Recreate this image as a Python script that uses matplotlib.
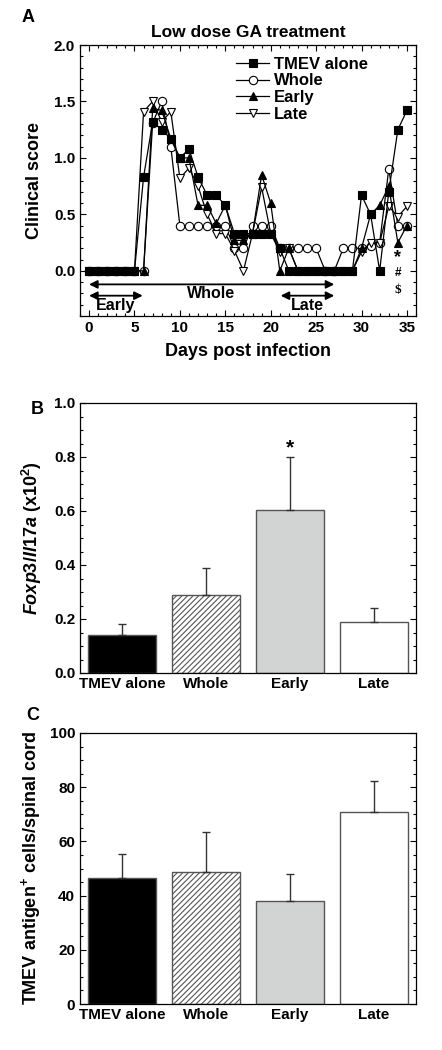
import numpy as np
import matplotlib.pyplot as plt
from matplotlib.ticker import MultipleLocator

plt.rcParams['font.family'] = ['Liberation Sans', 'DejaVu Sans']
plt.rcParams['font.weight'] = 'bold'
plt.rcParams['mathtext.fontset'] = 'custom'
plt.rcParams['mathtext.rm'] = 'Liberation Sans:bold'
plt.rcParams['mathtext.it'] = 'Liberation Sans:italic:bold'
plt.rcParams['mathtext.bf'] = 'Liberation Sans:bold'
plt.rcParams['hatch.linewidth'] = 0.8

# panel A: clinical scores by day
days = np.arange(36)
tmev = [0, 0, 0, 0, 0, 0, 0.83, 1.32, 1.25, 1.17, 1.0, 1.08, 0.83, 0.67, 0.67, 0.58,
        0.33, 0.33, 0.33, 0.33, 0.33, 0.2, 0, 0, 0, 0, 0, 0, 0, 0,
        0.67, 0.5, 0, 0.7, 1.25, 1.42]
whole = [0, 0, 0, 0, 0, 0, 0, 1.31, 1.5, 1.1, 0.4, 0.4, 0.4, 0.4, 0.4, 0.4,
         0.2, 0.2, 0.4, 0.4, 0.4, 0.2, 0.2, 0.2, 0.2, 0.2, 0, 0, 0.2, 0.2,
         0.2, 0.22, 0.25, 0.9, 0.4, 0.4]
early = [0, 0, 0, 0, 0, 0, 0, 1.44, 1.42, 1.17, 1.0, 1.0, 0.58, 0.58, 0.42, 0.58,
         0.27, 0.27, 0.33, 0.85, 0.6, 0, 0.2, 0, 0, 0, 0, 0, 0, 0,
         0.2, 0.5, 0.58, 0.75, 0.25, 0.4]
late = [0, 0, 0, 0, 0, 0, 1.41, 1.5, 1.32, 1.41, 0.82, 0.91, 0.75, 0.5, 0.33, 0.33,
        0.18, 0, 0.33, 0.74, 0.33, 0.17, 0.2, 0, 0, 0, 0, 0, 0, 0,
        0.17, 0.25, 0.25, 0.57, 0.48, 0.57]

# panels B and C
groups = ['TMEV alone', 'Whole', 'Early', 'Late']
foxp3 = [0.14, 0.29, 0.605, 0.19]
foxp3_err = [0.04, 0.10, 0.195, 0.05]
antigen = [46.5, 48.8, 37.9, 70.8]
antigen_err = [8.8, 14.7, 10.1, 11.5]

bar_colors = ['black', 'white', '#d2d4d4', 'white']
bar_hatch = [None, '//////', None, None]

W, H = 442, 1050
fig = plt.figure(figsize=(W / 100, H / 100), dpi=100)


def px_axes(l, t, r, b):
    return fig.add_axes([l / W, 1 - b / H, (r - l) / W, (b - t) / H])


def style_ticks(ax):
    ax.tick_params(which='both', direction='in', top=True, right=True,
                   labelsize=11, width=0.8)
    ax.tick_params(which='major', length=4)
    ax.tick_params(which='minor', length=2.5)
    for sp in ax.spines.values():
        sp.set_linewidth(0.9)


# ---- A ----
axA = px_axes(80, 45, 416, 316)
mk = dict(color='black', lw=0.9, markersize=6, markeredgewidth=0.8)
axA.plot(days, whole, marker='o', mfc='white', mec='black', label='Whole', zorder=3, **mk)
axA.plot(days, late, marker='v', mfc='white', mec='black', label='Late', zorder=4, **mk)
axA.plot(days, early, marker='^', mfc='black', mec='black', label='Early', zorder=5, **mk)
axA.plot(days, tmev, marker='s', mfc='black', mec='black', label='TMEV alone', zorder=6, **mk)
axA.set_xlim(-1, 36)
axA.set_ylim(-0.4, 2.0)
axA.xaxis.set_major_locator(MultipleLocator(5))
axA.xaxis.set_minor_locator(MultipleLocator(1))
axA.yaxis.set_minor_locator(MultipleLocator(0.1))
axA.set_yticks([0, 0.5, 1.0, 1.5, 2.0])
axA.set_yticklabels(['0.0', '0.5', '1.0', '1.5', '2.0'])
style_ticks(axA)
axA.set_xlabel('Days post infection', fontsize=13, fontweight='bold', labelpad=6)
axA.set_ylabel('Clinical score', fontsize=13, fontweight='bold', labelpad=8)
axA.set_title('Low dose GA treatment', fontsize=12.5, fontweight='bold', pad=6)

h, l = axA.get_legend_handles_labels()
order = [3, 0, 2, 1]
axA.legend([h[i] for i in order], [l[i] for i in order], loc='upper left',
           bbox_to_anchor=(0.43, 1.0), frameon=False, fontsize=12,
           handlelength=2.0, handletextpad=0.25, labelspacing=0.1, borderaxespad=0.3)

arrow = dict(arrowstyle='<|-|>', color='black', lw=1.3, mutation_scale=12,
             shrinkA=0, shrinkB=0)
axA.annotate('', xy=(0, -0.12), xytext=(27, -0.12), arrowprops=arrow)
axA.annotate('', xy=(0, -0.22), xytext=(5.9, -0.22), arrowprops=arrow)
axA.annotate('', xy=(21.1, -0.22), xytext=(27, -0.22), arrowprops=arrow)
axA.text(13.4, -0.2, 'Whole', ha='center', va='center', fontsize=11.5, fontweight='bold')
axA.text(2.9, -0.31, 'Early', ha='center', va='center', fontsize=11.5, fontweight='bold')
axA.text(24.0, -0.31, 'Late', ha='center', va='center', fontsize=11.5, fontweight='bold')
axA.text(34, 0.115, '*', ha='center', va='center', fontsize=13, fontweight='bold')
axA.text(34, -0.02, '#', ha='center', va='center', fontsize=8.5, fontweight='bold')
axA.text(34, -0.17, r'\$', ha='center', va='center', fontsize=9.5, fontweight='bold',
         family='Liberation Serif')
fig.text(28 / W, 1 - 17 / H, 'A', fontsize=13, fontweight='bold', ha='center', va='center')


def bar_panel(ax, vals, errs):
    x = np.arange(len(groups))
    for i in range(len(groups)):
        ax.bar(x[i], vals[i], width=0.8, color=bar_colors[i], edgecolor='#555555',
               hatch=bar_hatch[i], linewidth=1.0, zorder=2)
        ax.errorbar(x[i], vals[i], yerr=[[0], [errs[i]]], fmt='none', ecolor='#333333',
                    elinewidth=1.0, capsize=3, capthick=1.0, zorder=3)
    ax.set_xlim(-0.5, 3.5)
    ax.set_xticks(x)
    ax.set_xticklabels(groups, fontsize=12, fontweight='bold')
    style_ticks(ax)
    ax.tick_params(axis='x', which='both', length=0, top=False, bottom=False, pad=3)
    return x


# ---- B ----
axB = px_axes(80, 403, 416, 673)
xb = bar_panel(axB, foxp3, foxp3_err)
axB.set_ylim(0, 1.0)
axB.set_yticks(np.arange(0, 1.01, 0.2))
axB.set_yticklabels(['0.0', '0.2', '0.4', '0.6', '0.8', '1.0'])
axB.yaxis.set_minor_locator(MultipleLocator(0.05))
axB.set_ylabel(r'$Foxp3/Il17a$ (x10$^{2}$)', fontsize=13, fontweight='bold', labelpad=7)
axB.text(xb[2], foxp3[2] + foxp3_err[2] + 0.035, '*', ha='center', va='center',
         fontsize=15, fontweight='bold')
fig.text(37 / W, 1 - 410 / H, 'B', fontsize=13, fontweight='bold', ha='center', va='center')

# ---- C ----
axC = px_axes(80, 733, 416, 1004)
bar_panel(axC, antigen, antigen_err)
axC.set_ylim(0, 100)
axC.set_yticks(np.arange(0, 101, 20))
axC.yaxis.set_minor_locator(MultipleLocator(5))
axC.set_ylabel(r'TMEV antigen$^{+}$ cells/spinal cord', fontsize=13, fontweight='bold',
               labelpad=5)
fig.text(33 / W, 1 - 715 / H, 'C', fontsize=13, fontweight='bold', ha='center', va='center')

fig.savefig('out.png', dpi=100)
